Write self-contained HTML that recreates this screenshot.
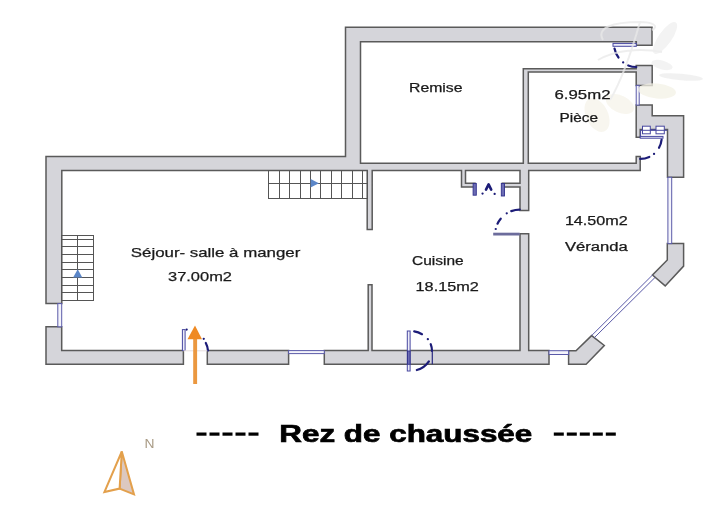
<!DOCTYPE html>
<html><head><meta charset="utf-8">
<style>
html,body{margin:0;padding:0;background:#fff;width:704px;height:513px;overflow:hidden}
svg{display:block;filter:blur(0.35px)}
text{font-family:"Liberation Sans",sans-serif}
</style></head>
<body>
<svg width="704" height="513" viewBox="0 0 704 513">
<rect width="704" height="513" fill="#fff"/>

<!-- walls -->
<g fill="#d5d5da" stroke="#5a5a5a" stroke-width="1.5" stroke-linejoin="miter">
<path d="M46,303.6 L46,156.5 L345.5,156.5 L345.5,27.3 L652,27.3 L652,45.2 L636.3,45.2 L636.3,41.8 L360.5,41.8 L360.5,163.3 L523.3,163.3 L523.3,68.7 L636.2,68.7 L636.2,65.6 L652.2,65.6 L652.2,85.4 L636.2,85.4 L636.2,72.1 L528.3,72.1 L528.3,163.3 L636.2,163.3 L636.2,156.6 L640.2,156.6 L640.2,170.5 L528.7,170.5 L528.7,210.4 L520,210.4 L520,187.1 L502.4,187.1 L502.4,183.2 L520,183.2 L520,170.5 L465.5,170.5 L465.5,183.2 L475,183.2 L475,187.1 L461.5,187.1 L461.5,170.5 L372.2,170.5 L372.2,229.5 L367.2,229.5 L367.2,170.5 L61.8,170.5 L61.8,303.6 Z"/>
<path d="M46,326.8 L61.7,326.8 L61.7,350.5 L183.4,350.5 L183.4,364.3 L46,364.3 Z"/>
<path d="M207.3,350.5 L288.6,350.5 L288.6,364.3 L207.3,364.3 Z"/>
<path d="M324.3,350.6 L368.2,350.6 L368.2,284.8 L372,284.8 L372,350.6 L520,350.6 L520,233.8 L528.7,233.8 L528.7,350.6 L549,350.6 L549,364.3 L324.3,364.3 Z"/>
<path d="M568.6,350.7 L576,350.7 L591.6,335.6 L604.3,345.5 L586.1,364.3 L568.6,364.3 Z"/>
<path d="M667.3,243.6 L683.6,243.6 L683.6,266.1 L665.2,285.9 L652.5,275 L667.3,260 Z"/>
<path d="M636.2,105.1 L652.2,105.1 L652.2,115.7 L683.6,115.7 L683.6,177.3 L667.5,177.3 L667.5,129.6 L640.2,129.6 L640.2,137.2 L636.2,137.2 Z"/>
</g>

<!-- windows -->
<g fill="#f4f4fb" stroke="#5a5aa8" stroke-width="1">
<rect x="57.8" y="303.6" width="3.9" height="23.2"/>
<rect x="288.6" y="350.6" width="35.7" height="3"/>
<rect x="549" y="350.7" width="19.6" height="3.8"/>
<rect x="667.9" y="177.3" width="3.8" height="66.3"/>
<rect x="636.2" y="85.4" width="3" height="19.7"/>
<line x1="591.6" y1="335.6" x2="652.5" y2="275"/>
<line x1="594.3" y1="337.7" x2="655.2" y2="277.3"/>
</g>

<!-- doors -->
<g fill="none" stroke="#1c1c78" stroke-width="2.2" stroke-linecap="round">
<path d="M618.5,57.5 A21.5,21.5 0 0 1 614.5,48.5 M623.1,62.4 l0.1,0 M636.3,67.0 A21.5,21.5 0 0 1 628.2,65.4"/>
<path d="M661.6,139.6 A21.5,21.5 0 0 1 659.0,147.8 M654.0,153.9 l0.1,0 M649.3,156.9 A21.5,21.5 0 0 1 640.2,158.9"/>
<path d="M495.7,229.0 l0.1,0 M497.5,223.7 A24.5,24.5 0 0 1 500.7,218.7 M506.7,213.3 l0.1,0 M511.3,211.1 A24.5,24.5 0 0 1 519.7,209.6"/>
<path d="M414.2,331.4 A22,20 0 0 1 422.0,334.2 M427.8,339.2 l0.1,0 M430.7,344.2 A22,20 0 0 1 432.0,351.0 M428.9,361.3 A22,20 0 0 1 416.8,370.0"/>
<path d="M186.6,329.6 l0.1,0 M203.7,338.8 l0.1,0 M205.8,343 Q207.5,346 208,350.5"/>
<path d="M482.5,193.6 l0.1,0 M494.6,193.9 l0.1,0"/>
<path d="M486,189.6 L488.6,184.4 L491.2,189.6" stroke-width="2.6" stroke-linejoin="round"/>
</g>
<g stroke="#2a2a80" stroke-width="1.2" fill="none">
<line x1="432.3" y1="351" x2="432.3" y2="364.3"/>
</g>
<g fill="#ececf8" stroke="#4848a0" stroke-width="1">
<rect x="613" y="43.4" width="23.3" height="2.9"/>
<rect x="640.2" y="136.4" width="22.8" height="1.8"/>
<rect x="407.3" y="331" width="2.8" height="40"/>
<rect x="182.4" y="329.6" width="2.7" height="20.9"/>
<rect x="642.5" y="126.2" width="7.8" height="7.6" fill="#fff"/>
<rect x="656" y="126.2" width="8.3" height="7.6" fill="#fff"/>
<line x1="650.3" y1="129.8" x2="656" y2="129.8"/>
<path d="M640.6,137 L640.6,130.3 L667.3,130.3" fill="none"/>
</g>
<rect x="493.2" y="232.7" width="26.5" height="2.8" fill="#6c6c9c"/>
<g fill="#6c6cb4" stroke="#30308a" stroke-width="0.9">
<rect x="473.1" y="183.4" width="3.2" height="11.8"/>
<rect x="501.3" y="183.4" width="3.2" height="12.6"/>
<rect x="407.5" y="351" width="2.6" height="13.3"/>
</g>

<!-- stairs -->
<g fill="none" stroke="#555" stroke-width="1">
<rect x="268.5" y="170.5" width="99" height="28"/>
<line x1="268.5" y1="183.5" x2="367.5" y2="183.5"/>
<path d="M279.5,170.5V198.5 M289.5,170.5V198.5 M300.5,170.5V198.5 M310.5,170.5V198.5 M320.5,170.5V198.5 M331.5,170.5V198.5 M341.5,170.5V198.5 M352.5,170.5V198.5 M362.5,170.5V198.5"/>
<rect x="61.5" y="235.5" width="32" height="65"/>
<line x1="77.5" y1="235.5" x2="77.5" y2="300.5"/>
<path d="M61.5,239.5H93.5 M61.5,246.5H93.5 M61.5,254.5H93.5 M61.5,262.5H93.5 M61.5,269.5H93.5 M61.5,277.5H93.5 M61.5,285.5H93.5 M61.5,292.5H93.5"/>
</g>
<polygon points="310.6,179 310.6,187.6 318.9,183.3" fill="#5b86c8"/>
<polygon points="77.7,269.3 73.1,277.6 82.3,277.6" fill="#5b86c8"/>

<!-- watermark -->
<g id="wm" opacity="0.75">
<ellipse cx="665" cy="38" rx="19" ry="6.5" transform="rotate(-55 665 38)" fill="#efefef"/>
<ellipse cx="681" cy="77" rx="22" ry="3.3" transform="rotate(5 681 77)" fill="#ededed"/>
<ellipse cx="662" cy="65" rx="11" ry="4.5" transform="rotate(15 662 65)" fill="#f0f0f0"/>
<ellipse cx="657" cy="91" rx="19" ry="7.5" transform="rotate(5 657 91)" fill="#f4f2e6"/>
<ellipse cx="597" cy="115" rx="11" ry="18" transform="rotate(-25 597 115)" fill="#f6f4ea"/>
<ellipse cx="620" cy="104" rx="15" ry="8.5" transform="rotate(25 620 104)" fill="#f6f4ea"/>
<path d="M603,40 C596,28 612,22 640,22 C652,22 660,26 652,30 M640,22 C632,50 622,80 610,100 M598,60 C615,50 640,48 662,52" fill="none" stroke="#e9e9e9" stroke-width="2"/>
</g>

<!-- labels -->
<g fill="#1a1a1a" stroke="#1a1a1a" stroke-width="0.25" font-size="13">
<text x="409" y="92.4" textLength="53.5" lengthAdjust="spacingAndGlyphs" font-size="12.3">Remise</text>
<text x="554.5" y="99" textLength="56" lengthAdjust="spacingAndGlyphs">6.95m2</text>
<text x="559.5" y="122.3" textLength="38.5" lengthAdjust="spacingAndGlyphs" font-size="12.5">Pièce</text>
<text x="130.8" y="256.6" textLength="169.5" lengthAdjust="spacingAndGlyphs">Séjour- salle à manger</text>
<text x="168" y="280.9" textLength="64" lengthAdjust="spacingAndGlyphs">37.00m2</text>
<text x="412" y="264.6" textLength="51.6" lengthAdjust="spacingAndGlyphs" font-size="12">Cuisine</text>
<text x="415.6" y="290.7" textLength="63.2" lengthAdjust="spacingAndGlyphs" font-size="12.5">18.15m2</text>
<text x="564.9" y="224.9" textLength="62.9" lengthAdjust="spacingAndGlyphs" font-size="12.5">14.50m2</text>
<text x="564.9" y="250.9" textLength="62.9" lengthAdjust="spacingAndGlyphs" font-size="12">Véranda</text>
</g>

<!-- title -->
<g fill="#000">
<rect x="196.5" y="432.5" width="10" height="3.2"/>
<rect x="209.5" y="432.5" width="10" height="3.2"/>
<rect x="222.5" y="432.5" width="10" height="3.2"/>
<rect x="235.5" y="432.5" width="10" height="3.2"/>
<rect x="248.5" y="432.5" width="10" height="3.2"/>
<rect x="553.8" y="432.5" width="10" height="3.2"/>
<rect x="566.8" y="432.5" width="10" height="3.2"/>
<rect x="579.8" y="432.5" width="10" height="3.2"/>
<rect x="592.8" y="432.5" width="10" height="3.2"/>
<rect x="605.8" y="432.5" width="10" height="3.2"/>
<text x="279.3" y="442.3" font-size="24" font-weight="bold" stroke="#000" stroke-width="0.7" textLength="253" lengthAdjust="spacingAndGlyphs">Rez de chaussée</text>
</g>

<!-- orange entry arrow -->
<line x1="183.4" y1="350.8" x2="207.3" y2="350.8" stroke="#e6dede" stroke-width="1"/>
<rect x="193.2" y="337" width="3.9" height="47" fill="#eb9840"/>
<polygon points="195,325.5 187.5,339.2 202,339.2" fill="#ef8a24"/>

<!-- north arrow -->
<g stroke="#e3a04c" stroke-width="2" stroke-linejoin="miter" fill="none">
<polygon points="121.8,451.5 134,494.4 119.6,488.6" fill="#dcc8c0"/>
<polygon points="121.8,451.5 119.6,488.6 104.4,492" fill="#fff"/>
</g>
<text x="144.6" y="447.6" font-size="12" fill="#a89a84" textLength="10" lengthAdjust="spacingAndGlyphs">N</text>

</svg>
</body></html>
